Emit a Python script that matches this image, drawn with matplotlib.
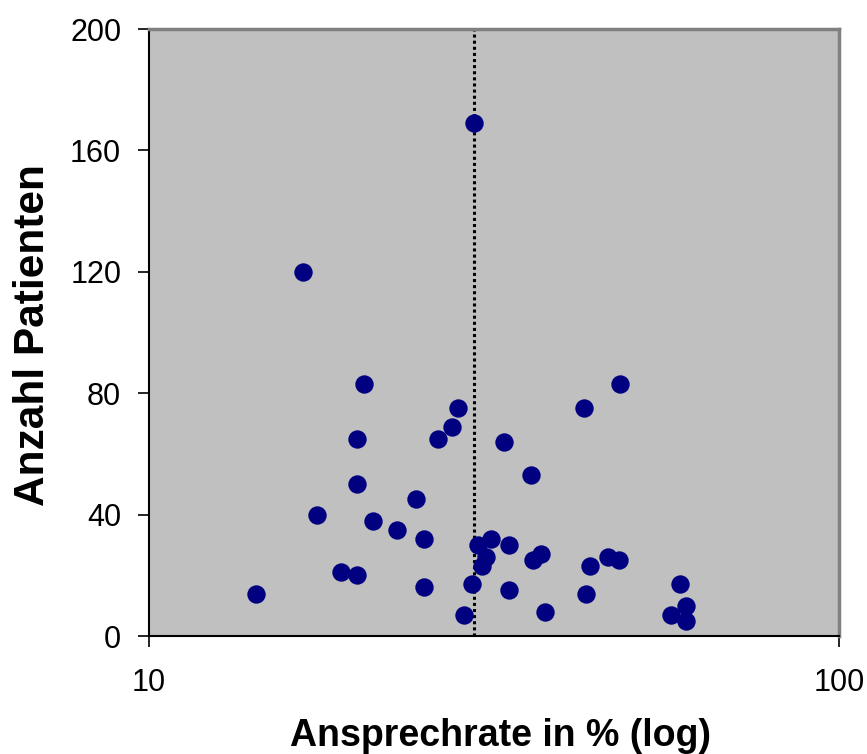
import matplotlib
matplotlib.use("Agg")
import matplotlib.pyplot as plt
from matplotlib.ticker import FixedLocator, NullLocator, FixedFormatter

plt.rcParams['font.family'] = ['Liberation Sans', 'DejaVu Sans']

# Ansprechrate in % (x, log scale) and Anzahl Patienten (y)
response_rate = [14.3, 16.7, 17.5, 19.0, 20.0, 20.0, 20.0, 20.5, 21.1, 22.9,
                 24.4, 25.0, 25.0, 26.2, 27.5, 28.0, 28.6, 29.4, 29.6, 30.0,
                 30.4, 30.8, 31.3, 32.7, 33.3, 33.3, 35.8, 36.0, 37.0, 37.5,
                 42.7, 43.0, 43.6, 46.2, 48.0, 48.2, 57.0, 58.8, 60.0, 60.0]
patients = [14, 120, 40, 21, 20, 50, 65, 83, 38, 35,
            45, 32, 16, 65, 69, 75, 7, 17, 169, 30,
            23, 26, 32, 64, 30, 15, 53, 25, 27, 8,
            75, 14, 23, 26, 25, 83, 7, 17, 10, 5]
reference_line = 29.6
x_ticks = [10, 100]
x_ticklabels = ["10", "100"]
y_ticks = [0, 40, 80, 120, 160, 200]

fig = plt.figure(figsize=(8.67, 7.54), dpi=100)
ax = fig.add_axes([149/867, 118/754, 690/867, 607/754])
ax.set_facecolor('#C0C0C0')

ax.scatter(response_rate, patients, s=175, color='#000080', zorder=3, linewidths=0)
ax.axvline(reference_line, color='black', linestyle=(0, (1, 1)), linewidth=2.2, zorder=2)

ax.set_xscale('log')
ax.set_xlim(10, 100)
ax.set_ylim(0, 200)
ax.xaxis.set_major_locator(FixedLocator(x_ticks))
ax.xaxis.set_major_formatter(FixedFormatter(x_ticklabels))
ax.xaxis.set_minor_locator(NullLocator())
ax.set_yticks(y_ticks)

ax.tick_params(axis='both', which='major', direction='out', length=8, width=1.2,
               labelsize=22, color='black')
ax.tick_params(axis='x', pad=15)
ax.tick_params(axis='y', pad=12)

for side in ['top', 'right']:
    ax.spines[side].set_color('#808080')
    ax.spines[side].set_linewidth(2.5)
for side in ['left', 'bottom']:
    ax.spines[side].set_color('black')
    ax.spines[side].set_linewidth(1.5)

fig.text(501/867, 1 - 746/754, "Ansprechrate in % (log)", ha='center', va='baseline',
         fontsize=27, fontweight='bold')
fig.text(44/867, 1 - 335/754, "Anzahl Patienten", ha='center', va='baseline',
         rotation=90, rotation_mode='anchor', fontsize=30.5, fontweight='bold')

fig.savefig("out.png", dpi=100)
